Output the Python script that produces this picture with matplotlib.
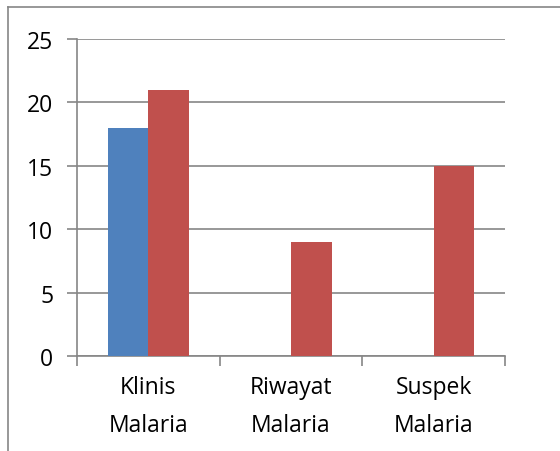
import matplotlib.pyplot as plt
import numpy as np
from matplotlib.lines import Line2D

categories = ['Klinis\nMalaria', 'Riwayat\nMalaria', 'Suspek\nMalaria']
series_blue = [18, 0, 0]
series_red = [21, 9, 15]

plt.rcParams['font.family'] = ['Open Sans', 'DejaVu Sans']

fig = plt.figure(figsize=(5.6, 4.52), dpi=100)
ax = fig.add_axes([0.1375, 0.2102, 0.7643, 0.7013])

x = np.arange(len(categories))
w = 0.286
ax.bar(x - w / 2, series_blue, w, color='#4F81BD', zorder=3)
ax.bar(x + w / 2, series_red, w, color='#C0504D', zorder=3)

ax.set_xlim(-0.5, 2.5)
ax.set_ylim(0, 25)
ax.set_yticks(range(0, 26, 5))
ax.yaxis.grid(True, color='#868686', linewidth=1.2, zorder=0)

# category ticks sit on the boundaries, labels in the middle
ax.set_xticks([-0.5, 0.5, 1.5, 2.5])
ax.set_xticklabels([])
ax.set_xticks(x, minor=True)
ax.set_xticklabels(categories, minor=True, fontsize=16.5, linespacing=1.75)
ax.tick_params(axis='x', which='minor', length=0, pad=14)
ax.tick_params(axis='x', which='major', length=7, width=1.2, color='#868686')
ax.tick_params(axis='y', length=7, width=1.2, color='#868686', labelsize=16.5,
               pad=10, labelcolor='black')

for s in ['top', 'right']:
    ax.spines[s].set_visible(False)
for s in ['left', 'bottom']:
    ax.spines[s].set_color('#868686')
    ax.spines[s].set_linewidth(1.2)

# outer chart border (top and left edges)
bx = 8 / 560
by = 1 - 8 / 452
fig.add_artist(Line2D([bx, 1], [by, by], color='#868686', linewidth=1.2))
fig.add_artist(Line2D([bx, bx], [0, by], color='#868686', linewidth=1.2))

fig.savefig('out.png', dpi=100)
